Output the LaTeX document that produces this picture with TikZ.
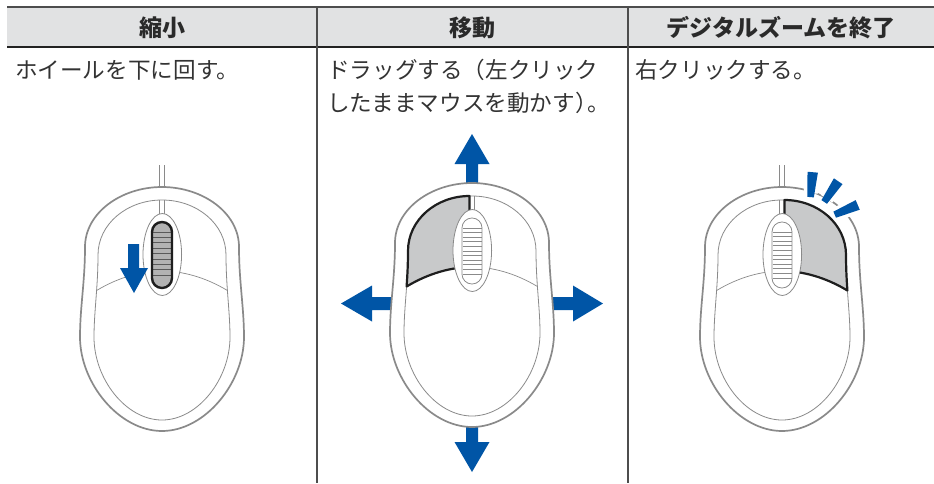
\documentclass[tikz,border=0pt]{standalone}
\usepackage{fontspec}
\newfontfamily\jp{Noto Sans CJK JP}

\definecolor{headgray}{HTML}{E1E2E3}
\definecolor{rulegray}{HTML}{4D4D4D}
\definecolor{ruledark}{HTML}{222222}
\definecolor{textcol}{HTML}{333333}
\definecolor{headtext}{HTML}{2A2A2A}
\definecolor{ogray}{HTML}{8A8A8A}
\definecolor{btngray}{HTML}{C8C9CA}
\definecolor{btnedge}{HTML}{1E1E1E}
\definecolor{wdark}{HTML}{B2B2B2}
\definecolor{ablue}{HTML}{0055A6}

% mouse outlines, relative to the top of the outer shell
\def\outerpath{(0,0) .. controls (41,0) and (77,26) .. (77,60)
  .. controls (77,95) and (82,120) .. (82,150)
  .. controls (82,196) and (43,244) .. (0,244)
  .. controls (-43,244) and (-82,196) .. (-82,150)
  .. controls (-82,120) and (-77,95) .. (-77,60)
  .. controls (-77,26) and (-41,0) .. (0,0) -- cycle}
\def\innerpath{(0,13) .. controls (35,13) and (64,37) .. (64,68)
  .. controls (64,100) and (68,125) .. (68,150)
  .. controls (68,192) and (36,233) .. (0,233)
  .. controls (-36,233) and (-68,192) .. (-68,150)
  .. controls (-68,125) and (-64,100) .. (-64,68)
  .. controls (-64,37) and (-35,13) .. (0,13) -- cycle}

\tikzset{
  outerln/.style={draw=ogray, line width=1.7pt, fill=white},
  innerln/.style={draw=ogray, line width=0.8pt},
  thinln/.style={draw=ogray, line width=0.7pt},
  btnshade/.style={fill=btngray, draw=btnedge, line width=2.2pt, line join=round},
  blueshape/.style={fill=ablue},
  headtxt/.style={font=\jp\bfseries\fontsize{23}{27}\selectfont, text=headtext, inner sep=0},
  bodytxt/.style={font=\jp\fontsize{22.6}{27}\selectfont, text=textcol, anchor=west, inner sep=0},
  mousecord/.pic={
    \draw[thinln] (-2.5,-22) -- (-2.5,0) (2.5,-22) -- (2.5,0);
  },
  mousebody/.pic={
    \draw[outerln] \outerpath;
    \draw[innerln] \innerpath;
    \draw[thinln] (-2.5,13) -- (-2.5,40) (2.5,13) -- (2.5,40);
    \draw[thinln] (-65.4,103.5) .. controls (-43,90) and (-20,84) .. (0,84)
      .. controls (20,84) and (43,90) .. (65.4,103.5);
  },
  leftbtn/.pic={
    \draw[btnshade] (-2.5,13) .. controls (-36,13) and (-64,37) .. (-64,68)
      .. controls (-64,80.8) and (-64.6,92.5) .. (-65.4,103.5)
      .. controls (-43,90) and (-20,84) .. (0,84) -- (-2.5,60) -- cycle;
  },
  rightbtn/.pic={
    \draw[btnshade] (2.5,13) .. controls (36,13) and (64,37) .. (64,68)
      .. controls (64,80.8) and (64.6,92.5) .. (65.4,103.5)
      .. controls (43,90) and (20,84) .. (0,84) -- (2.5,60) -- cycle;
  },
  wheeloval/.pic={
    \draw[innerln, fill=white] (0.3,67.5) ellipse [x radius=19.3, y radius=41];
  },
  darkwheel/.pic={
    \fill[wdark, rounded corners=9.9pt] (-10,35) rectangle (10,101);
    \foreach \k in {0,...,8}
      \draw[line width=0.7pt, draw=black!65] (-9,45+5.4*\k) -- (9,45+5.4*\k);
    \draw[draw=btnedge, line width=2.4pt, rounded corners=9.9pt] (-10,35) rectangle (10,101);
  },
  plainwheel/.pic={
    \draw[innerln, fill=white, rounded corners=9.9pt] (-10,35) rectangle (10,101);
    \foreach \k in {0,...,10}
      \draw[thinln] (-9.5,45+4.6*\k) -- (9.5,45+4.6*\k);
  },
}

\begin{document}
\begin{tikzpicture}[x=1pt, y=-1pt]
\useasboundingbox (0,0) rectangle (934,483);
\fill[white] (0,0) rectangle (934,483);

% table frame
\fill[headgray] (7,7) rectangle (934,47);
\draw[rulegray, line width=1.3pt] (7,7) -- (934,7);
\draw[ruledark, line width=1.9pt] (7,47) -- (934,47);
\draw[rulegray, line width=1.4pt] (317,7) -- (317,483);
\draw[rulegray, line width=1.4pt] (628,7) -- (628,483);

% headings
\node[headtxt] (h1) at (162,27.5) {縮小};
\node[headtxt] (h2) at (472.5,27.5) {移動};
\node[headtxt] (h3) at (781,27.5) {デジタルズームを終了};

% descriptions
\node[bodytxt] (t1) at (15,70) {ホイールを下に回す。};
\node[bodytxt] (t2a) at (327,70) {ドラッグする（左クリック};
\node[bodytxt] (t2b) at (327,103) {したままマウスを動かす）\kern-0.45em。};
\node[bodytxt] (t3) at (635,70) {右クリックする。};

% zoom out: wheel turned downwards
\pic at (162,187) {mousecord};
\pic at (162,187) {mousebody};
\pic at (162,187) {wheeloval};
\pic at (162,187) {darkwheel};
\begin{scope}[shift={(162,187)}]
  \fill[blueshape] (-34,57) -- (-34,81) -- (-42,81) -- (-28,106) -- (-14,81)
    -- (-23,81) -- (-23,57) -- cycle;
\end{scope}

% move: drag in four directions
\begin{scope}[shift={(472,183)}]
  \fill[blueshape] (-6,5) -- (-6,-19) -- (-17.5,-19) -- (0,-49) -- (17.5,-19)
    -- (6,-19) -- (6,5) -- cycle;
  \fill[blueshape] (-6,239) -- (-6,259) -- (-17.5,259) -- (0,289) -- (17.5,259)
    -- (6,259) -- (6,239) -- cycle;
  \fill[blueshape] (-70,114) -- (-100,114) -- (-100,102.5) -- (-131,120.5)
    -- (-100,138.5) -- (-100,127) -- (-70,127) -- cycle;
  \fill[blueshape] (70,114) -- (101,114) -- (101,102.5) -- (131,120.5)
    -- (101,138.5) -- (101,127) -- (70,127) -- cycle;
\end{scope}
\pic at (472,183) {mousebody};
\pic at (472,183) {leftbtn};
\pic at (472,183) {wheeloval};
\pic at (472,183) {plainwheel};

% end zoom: right click, with three click marks fanning out
\pic at (782,187) {mousecord};
\pic at (782,187) {mousebody};
\pic at (782,187) {rightbtn};
\pic at (782,187) {wheeloval};
\pic at (782,187) {plainwheel};
\foreach \a in {85,56,23} {
  \begin{scope}[shift={(808,226)}, rotate=\a]
    \fill[white] (33,-7) -- (52,-8.5) -- (52,8.5) -- (33,7) -- cycle;
    \fill[blueshape] (29,-3.3) -- (54,-5.2) -- (54,5.2) -- (29,3.3) -- cycle;
  \end{scope}
}
\end{tikzpicture}
\end{document}
